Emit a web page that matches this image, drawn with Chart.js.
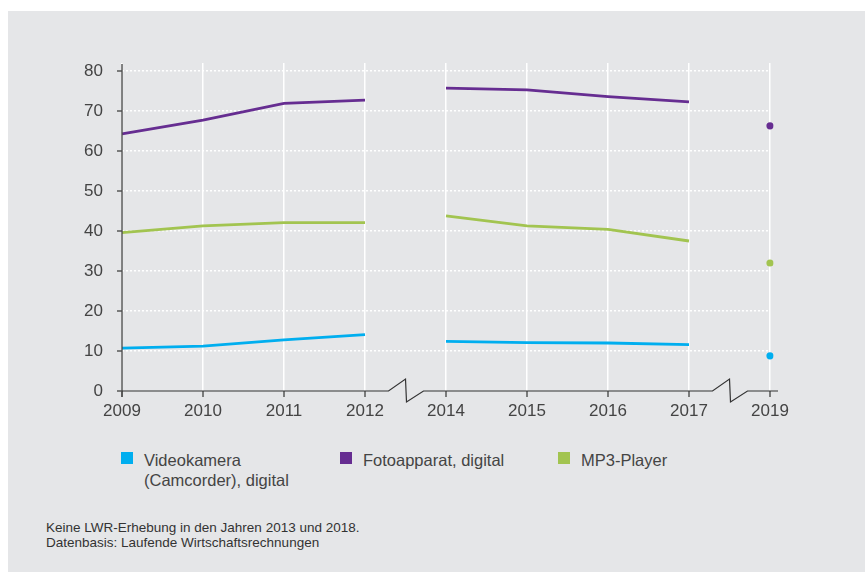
<!DOCTYPE html>
<html>
<head>
<meta charset="utf-8">
<script src="https://cdn.jsdelivr.net/npm/chart.js@4/dist/chart.umd.min.js"></script>
<style>
  html, body { margin:0; padding:0; background:#ffffff; width:865px; height:572px; overflow:hidden; }
  #panel { position:absolute; left:8px; top:11px; width:857px; height:561px; background:#e5e6e8; }
  #wrap { position:absolute; left:0; top:0; width:865px; height:430px; }
  .lg-box { position:absolute; width:12px; height:12px; top:452px; }
  .lg-text { position:absolute; top:450px; font-family:"Liberation Sans", Arial, sans-serif; font-size:16.5px; line-height:20px; color:#444; width:160px; }
  #note { position:absolute; left:46px; top:521px; font-family:"Liberation Sans", Arial, sans-serif; font-size:13.5px; line-height:14.5px; color:#333; }
</style>
</head>
<body>
<div id="panel"></div>
<div id="wrap"><canvas id="c"></canvas></div>
<div id="legend"></div>
<div id="note">Keine LWR-Erhebung in den Jahren 2013 und 2018.<br>Datenbasis: Laufende Wirtschaftsrechnungen</div>
<script>
// ---- data ----
const categories = ['2009','2010','2011','2012','2014','2015','2016','2017','2019'];
const videokamera = [10.7, 11.2, 12.8, 14.1, 12.4, 12.1, 12.0, 11.6, 8.8];
const fotoapparat = [64.3, 67.7, 71.9, 72.7, 75.7, 75.3, 73.6, 72.3, 66.3];
const mp3player   = [39.6, 41.3, 42.1, 42.1, 43.8, 41.3, 40.4, 37.5, 32.0];
const seriesNames = ['Videokamera (Camcorder), digital', 'Fotoapparat, digital', 'MP3-Player'];
const yTicks = [0, 10, 20, 30, 40, 50, 60, 70, 80];

const colors = ['#00aeef', '#662d91', '#a2c450'];
const years = categories.map(Number);
const gapAfter = i => i < years.length - 1 && years[i + 1] - years[i] > 1;
const isolated = i => (i === 0 || gapAfter(i - 1)) && (i === years.length - 1 || gapAfter(i));

function makeDs(label, data, color) {
  return {
    label, data,
    borderColor: color, backgroundColor: color,
    borderWidth: 2.8, tension: 0,
    pointRadius: ctx => isolated(ctx.dataIndex) ? 3.6 : 0,
    pointHoverRadius: ctx => isolated(ctx.dataIndex) ? 3.6 : 0,
    pointBorderWidth: 0,
    segment: { borderColor: ctx => gapAfter(ctx.p0DataIndex) ? 'rgba(0,0,0,0)' : undefined },
    fill: false
  };
}

const axesPlugin = {
  id: 'customAxes',
  afterDatasetsDraw(chart) {
    const { ctx, scales: { x, y }, chartArea } = chart;
    const y0 = y.getPixelForValue(0);
    const left = chartArea.left;
    ctx.save();
    ctx.strokeStyle = '#4d4d4d';
    ctx.lineWidth = 1.4;
    // y axis line
    ctx.beginPath();
    ctx.moveTo(left, chartArea.top + 1);
    ctx.lineTo(left, y0 + 6);
    ctx.stroke();
    // y ticks
    yTicks.forEach(v => {
      const py = y.getPixelForValue(v);
      ctx.beginPath(); ctx.moveTo(left - 5, py); ctx.lineTo(left, py); ctx.stroke();
    });
    // x ticks
    categories.forEach((c, i) => {
      const px = x.getPixelForValue(i);
      ctx.beginPath(); ctx.moveTo(px, y0); ctx.lineTo(px, y0 + 6); ctx.stroke();
    });
    // x axis with breaks
    ctx.lineWidth = 1.2;
    ctx.strokeStyle = '#333';
    ctx.beginPath();
    ctx.moveTo(x.getPixelForValue(0), y0);
    for (let i = 0; i < categories.length - 1; i++) {
      if (gapAfter(i)) {
        const mid = (x.getPixelForValue(i) + x.getPixelForValue(i + 1)) / 2;
        ctx.lineTo(mid - 17, y0);
        ctx.lineTo(mid, y0 - 12);
        ctx.lineTo(mid + 1, y0 + 11);
        ctx.lineTo(mid + 18, y0);
      }
    }
    ctx.lineTo(x.getPixelForValue(categories.length - 1) + 8, y0);
    ctx.stroke();
    ctx.restore();
  }
};

const chart = new Chart(document.getElementById('c'), {
  type: 'line',
  data: {
    labels: categories,
    datasets: [
      makeDs(seriesNames[0], videokamera, colors[0]),
      makeDs(seriesNames[1], fotoapparat, colors[1]),
      makeDs(seriesNames[2], mp3player, colors[2])
    ]
  },
  options: {
    responsive: true,
    maintainAspectRatio: false,
    animation: false,
    layout: { padding: { top: 63, right: 95, left: 0, bottom: 0 } },
    plugins: { legend: { display: false }, tooltip: { enabled: false } },
    scales: {
      x: {
        type: 'category',
        offset: false,
        border: { display: false },
        grid: { color: '#ffffff', lineWidth: 1.5, drawTicks: false },
        ticks: { color: '#444', font: { family: '"Liberation Sans", Arial, sans-serif', size: 17 }, padding: 10, maxRotation: 0, autoSkip: false },
        afterFit: s => { s.height = 39; }
      },
      y: {
        min: 0, max: 82,
        border: { display: false, dash: [2, 2] },
        grid: { color: ctx => (ctx.tick && ctx.tick.value === 0) ? 'rgba(0,0,0,0)' : '#ffffff', lineWidth: 1.5, drawTicks: false },
        afterBuildTicks: axis => { axis.ticks = yTicks.map(v => ({ value: v })); },
        ticks: { color: '#444', font: { family: '"Liberation Sans", Arial, sans-serif', size: 17 }, padding: 19 },
        afterFit: s => { s.width = 122; }
      }
    }
  },
  plugins: [axesPlugin]
});

// HTML legend built from the datasets
const legendLeft = [121, 340, 558];
const lg = document.getElementById('legend');
chart.data.datasets.forEach((ds, i) => {
  const box = document.createElement('div');
  box.className = 'lg-box';
  box.style.left = legendLeft[i] + 'px';
  box.style.background = ds.borderColor;
  const t = document.createElement('div');
  t.className = 'lg-text';
  t.style.left = (legendLeft[i] + 23) + 'px';
  t.style.width = i === 0 ? '150px' : '200px';
  t.textContent = ds.label;
  lg.appendChild(box); lg.appendChild(t);
});
</script>
</body>
</html>
